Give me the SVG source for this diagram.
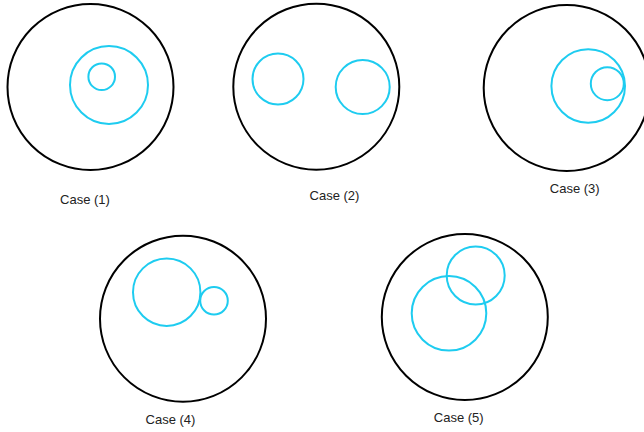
<svg xmlns="http://www.w3.org/2000/svg" width="644" height="432" viewBox="0 0 644 432">
<style>
.outer{fill:none;stroke:#000;stroke-width:2}
.inner{fill:none;stroke:#1ECCF0;stroke-width:2}
.lbl{font-family:"Liberation Sans",Arial,sans-serif;font-size:13px;fill:#222;text-anchor:middle}
</style>
<rect width="644" height="432" fill="#fff"/>
<g id="case1">
<circle class="outer" cx="90.5" cy="87" r="83"/>
<circle class="inner" cx="109" cy="85" r="39"/>
<circle class="inner" cx="101.7" cy="76.7" r="13.3"/>
<text class="lbl" x="85" y="204">Case (1)</text>
</g>
<g id="case2">
<circle class="outer" cx="316.3" cy="86.7" r="83"/>
<circle class="inner" cx="278" cy="79" r="25.5"/>
<circle class="inner" cx="362.7" cy="87" r="27"/>
<text class="lbl" x="334.5" y="200">Case (2)</text>
</g>
<g id="case3">
<circle class="outer" cx="566.7" cy="88" r="83"/>
<circle class="inner" cx="588.2" cy="86" r="36.8"/>
<circle class="inner" cx="607.3" cy="83.7" r="16.5"/>
<text class="lbl" x="574.7" y="193">Case (3)</text>
</g>
<g id="case4">
<circle class="outer" cx="183" cy="318.7" r="83"/>
<circle class="inner" cx="166.7" cy="292.2" r="33.7"/>
<circle class="inner" cx="214" cy="300.7" r="13.8"/>
<text class="lbl" x="170.5" y="424">Case (4)</text>
</g>
<g id="case5">
<circle class="outer" cx="464.8" cy="317" r="83"/>
<circle class="inner" cx="449" cy="313.3" r="37.3"/>
<circle class="inner" cx="475.7" cy="275.5" r="29"/>
<text class="lbl" x="458.7" y="422">Case (5)</text>
</g>
<g id="connectors"/>
</svg>
